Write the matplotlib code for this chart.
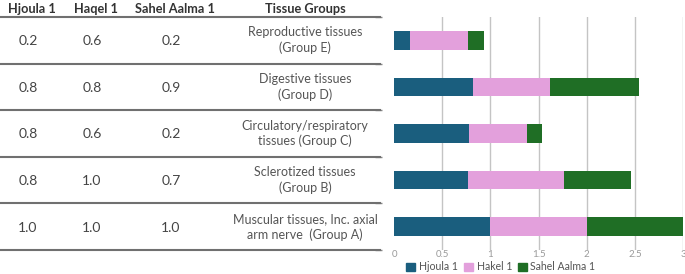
import matplotlib
matplotlib.use('Agg')
import matplotlib.pyplot as plt
from matplotlib.lines import Line2D
from matplotlib.patches import Patch

plt.rcParams['font.family'] = ['Lato', 'DejaVu Sans']

# table columns
col_headers = ['Hjoula 1', 'Haqel 1', 'Sahel Aalma 1', 'Tissue Groups']
groups = ['Reproductive tissues\n(Group E)',
          'Digestive tissues\n(Group D)',
          'Circulatory/respiratory\ntissues (Group C)',
          'Sclerotized tissues\n(Group B)',
          'Muscular tissues, Inc. axial\narm nerve  (Group A)']
hjoula_tab = [0.2, 0.8, 0.8, 0.8, 1.0]
haqel_tab = [0.6, 0.8, 0.6, 1.0, 1.0]
sahel_tab = [0.2, 0.9, 0.2, 0.7, 1.0]

# bar lengths as drawn in the chart
series_names = ['Hjoula 1', 'Hakel 1', 'Sahel Aalma 1']
hjoula_bar = [0.17, 0.82, 0.78, 0.765, 1.0]
hakel_bar = [0.6, 0.8, 0.6, 1.0, 1.0]
sahel_bar = [0.16, 0.925, 0.155, 0.7, 1.0]
colors = ['#1a5e7e', '#e3a0dc', '#1f6e25']
xticks = [0, 0.5, 1, 1.5, 2, 2.5, 3]

W, H = 685, 274
fig = plt.figure(figsize=(W / 100, H / 100), dpi=100)

def fy(py):
    return 1 - py / H

# ---- table on the left
col_x = [32, 96, 175, 305]
for x, t in zip(col_x, col_headers):
    fig.text(x / W, fy(9), t, ha='center', va='center', fontsize=9.2,
             fontweight='bold', color='#333333')

row_lines = [17, 63.6, 110.2, 156.8, 203.4, 250]
for y in row_lines:
    fig.add_artist(Line2D([0, 380 / W], [fy(y), fy(y)], color='#707070', lw=1.5))

for i in range(len(groups)):
    yc = (row_lines[i] + row_lines[i + 1]) / 2
    for x, v in zip(col_x[:3], [hjoula_tab[i], haqel_tab[i], sahel_tab[i]]):
        fig.text((x - 4) / W, fy(yc + 1), '{:.1f}'.format(v), ha='center', va='center',
                 fontsize=10, color='#444444')
    fig.text(col_x[3] / W, fy(yc), groups[i], ha='center', va='center',
             fontsize=9, color='#555555', linespacing=1.3)

# ---- stacked bar chart on the right
ax = fig.add_axes([394 / W, fy(250), (683 - 394) / W, (250 - 17) / H])
ypos = list(range(len(groups)))
left = [0] * len(groups)
for vals, c, name in zip([hjoula_bar, hakel_bar, sahel_bar], colors, series_names):
    ax.barh(ypos, vals, left=left, height=0.4, color=c, label=name, zorder=3)
    left = [a + b for a, b in zip(left, vals)]

ax.set_xlim(0, 3)
ax.set_ylim(4.5, -0.5)
ax.set_xticks(xticks)
ax.set_xticklabels(['0', '0.5', '1', '1.5', '2', '2.5', '3'])
ax.tick_params(axis='x', length=0, labelsize=7, labelcolor='#9a9a9a', pad=0)
ax.grid(axis='x', color='#c4c4c4', lw=1, zorder=0)
ax.xaxis.get_gridlines()[0].set_visible(False)

ax.set_yticks([])
ax.set_yticks([-0.5, 0.5, 1.5, 2.5, 3.5, 4.5], minor=True)
ax.tick_params(axis='y', which='minor', length=5, color='#888888', width=1)
ax.spines['left'].set_position(('outward', 9))
for s in ax.spines.values():
    s.set_visible(False)

handles = [Patch(color=c) for c in colors]
fig.legend(handles, series_names, loc='center', bbox_to_anchor=(501 / W, fy(267)),
           ncol=3, frameon=False, fontsize=7.6, labelcolor='#555555',
           handlelength=0.85, handleheight=0.85, handletextpad=0.35, columnspacing=0.55,
           borderaxespad=0, borderpad=0)

fig.savefig('out.png', dpi=100)
